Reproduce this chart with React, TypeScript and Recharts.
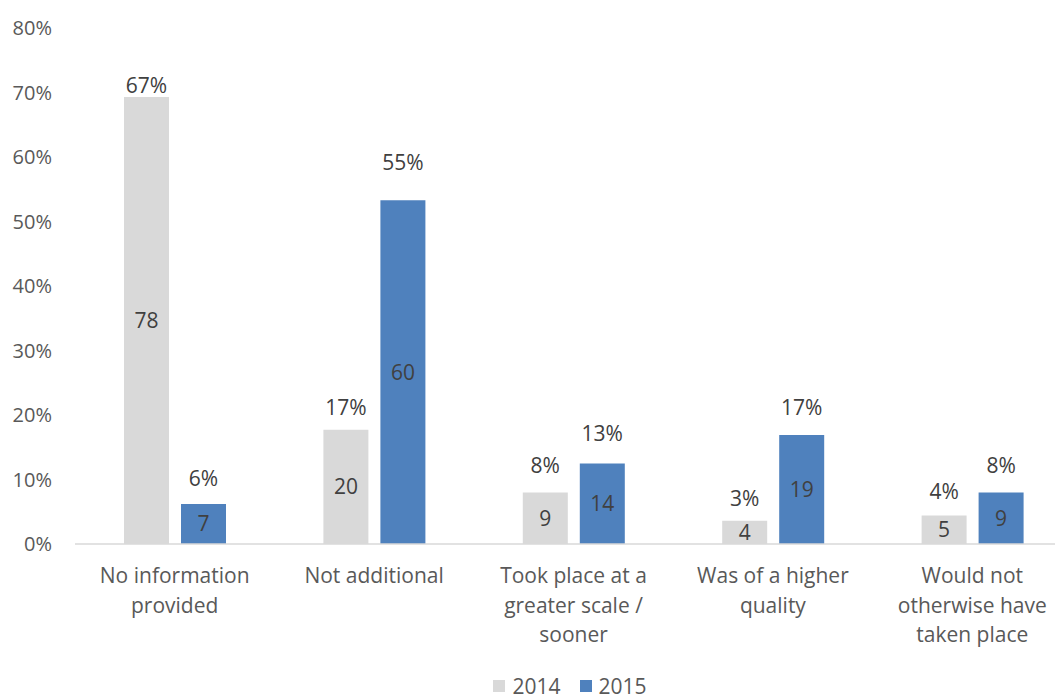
import React from 'react';
import { BarChart, Bar, XAxis, YAxis, LabelList, Legend } from 'recharts';

const categories = [
  'No information provided',
  'Not additional',
  'Took place at a greater scale / sooner',
  'Was of a higher quality',
  'Would not otherwise have taken place',
];
const categoryLines = [
  ['No information', 'provided'],
  ['Not additional'],
  ['Took place at a', 'greater scale /', 'sooner'],
  ['Was of a higher', 'quality'],
  ['Would not', 'otherwise have', 'taken place'],
];
const seriesNames = ['2014', '2015'];
const seriesColors = ['#D9D9D9', '#4F81BD'];
// bar heights (share, %)
const bar2014 = [69.3, 17.7, 8.0, 3.6, 4.4];
const bar2015 = [6.2, 53.3, 12.5, 16.9, 8.0];
// counts shown inside the bars
const count2014 = [78, 20, 9, 4, 5];
const count2015 = [7, 60, 14, 19, 9];
// percentage labels shown above the bars
const pct2014 = [67, 17, 8, 3, 4];
const pct2015 = [6, 55, 13, 17, 8];
const yTicks = [0, 10, 20, 30, 40, 50, 60, 70, 80];

const data = categories.map((name, i) => ({
  name,
  b2014: bar2014[i],
  b2015: bar2015[i],
  c2014: count2014[i],
  c2015: count2015[i],
  p2014: pct2014[i],
  p2015: pct2015[i],
}));

const FONT = '"Open Sans", sans-serif';
const TICK_COLOR = '#595959';
const LABEL_COLOR = '#404040';

const CategoryTick = (props: any) => {
  const { x, y, payload } = props;
  const idx = categories.indexOf(payload.value);
  const lines = categoryLines[idx] || [payload.value];
  return (
    <text x={x} y={y} textAnchor="middle" fill={TICK_COLOR} fontSize={21} fontFamily={FONT}>
      {lines.map((l, i) => (
        <tspan key={i} x={x} y={y + 39 + i * 29.5}>
          {l}
        </tspan>
      ))}
    </text>
  );
};

const LegendContent = () => (
  <div
    style={{
      display: 'flex',
      justifyContent: 'center',
      alignItems: 'center',
      height: 26,
      fontFamily: FONT,
      fontSize: 21,
      color: TICK_COLOR,
      lineHeight: '26px',
    }}
  >
    {seriesNames.map((n, i) => (
      <div key={n} style={{ display: 'flex', alignItems: 'center', marginRight: i === 0 ? 19 : 0 }}>
        <span style={{ display: 'inline-block', width: 12, height: 12, background: seriesColors[i], marginRight: 7 }} />
        <span>{n}</span>
      </div>
    ))}
  </div>
);

export default function App() {
  return (
    <div style={{ position: 'absolute', left: 0, top: 0, width: 1055, height: 695, overflow: 'hidden', background: '#fff' }}>
      <BarChart
        width={1090}
        height={695}
        data={data}
        margin={{ top: 28, right: 18, bottom: 0, left: 0 }}
        barGap={12}
        barSize={45}
      >
        <XAxis
          xAxisId="main"
          dataKey="name"
          axisLine={{ stroke: '#D9D9D9', strokeWidth: 1.5 }}
          tickLine={false}
          tickSize={0}
          tickMargin={0}
          height={125}
          interval={0}
          tick={<CategoryTick />}
        />
        <XAxis xAxisId="lbl" dataKey="name" hide height={0} />
        <YAxis
          domain={[0, 80]}
          ticks={yTicks}
          tickFormatter={(v: number) => `${v}%`}
          width={75}
          axisLine={false}
          tickLine={false}
          tickSize={0}
          tickMargin={23}
          tick={{ fill: TICK_COLOR, fontSize: 20, fontFamily: FONT }}
        />
        <Legend
          content={<LegendContent />}
          wrapperStyle={{ left: 68, width: 1004, bottom: -4 }}
        />
        <Bar xAxisId="main" dataKey="b2014" name={seriesNames[0]} fill={seriesColors[0]} isAnimationActive={false}>
          <LabelList dataKey="c2014" position="center" fill={LABEL_COLOR} fontSize={21} fontFamily={FONT} />
        </Bar>
        <Bar xAxisId="main" dataKey="b2015" name={seriesNames[1]} fill={seriesColors[1]} isAnimationActive={false}>
          <LabelList dataKey="c2015" position="center" fill={LABEL_COLOR} fontSize={21} fontFamily={FONT} />
        </Bar>
        <Bar xAxisId="lbl" dataKey="p2014" fill="transparent" legendType="none" isAnimationActive={false}>
          <LabelList dataKey="p2014" position="top" offset={19} formatter={(v: any) => `${v}%`} fill={LABEL_COLOR} fontSize={21} fontFamily={FONT} />
        </Bar>
        <Bar xAxisId="lbl" dataKey="p2015" fill="transparent" legendType="none" isAnimationActive={false}>
          <LabelList dataKey="p2015" position="top" offset={19} formatter={(v: any) => `${v}%`} fill={LABEL_COLOR} fontSize={21} fontFamily={FONT} />
        </Bar>
      </BarChart>
    </div>
  );
}
